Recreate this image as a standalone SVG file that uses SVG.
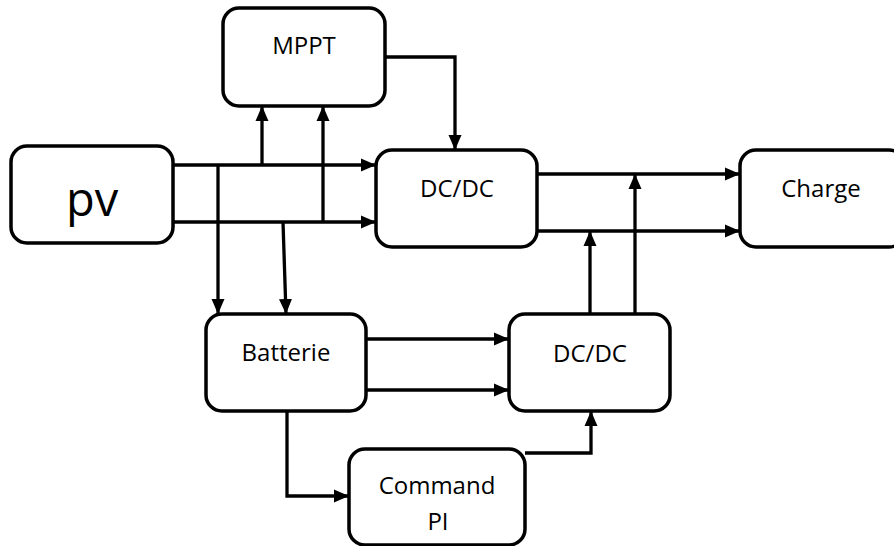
<svg xmlns="http://www.w3.org/2000/svg" width="894" height="546" viewBox="0 0 894 546">
<style>
.box{fill:#fff;stroke:#000;stroke-width:3.5}
.t{font-family:"Open Sans","Liberation Sans",sans-serif;font-size:24px;fill:#000;text-anchor:middle}
.c{fill:none;stroke:#000;stroke-width:3.3}
</style>
<defs>
<marker id="ah" markerUnits="userSpaceOnUse" markerWidth="15" markerHeight="15" viewBox="0 0 15 15" refX="15" refY="7.5" orient="auto">
<path d="M0,1 L15,7.5 L0,14 Z" fill="#000"/>
</marker>
</defs>
<rect width="894" height="546" fill="#fff"/>
<g id="connectors">
<path class="c" d="M173,165 H376" marker-end="url(#ah)"/>
<path class="c" d="M173,222 H376" marker-end="url(#ah)"/>
<path class="c" d="M218,165 V314" marker-end="url(#ah)"/>
<path class="c" d="M283,222 L286,314" marker-end="url(#ah)"/>
<path class="c" d="M262,165 V106" marker-end="url(#ah)"/>
<path class="c" d="M323,222 V106" marker-end="url(#ah)"/>
<path class="c" d="M385,57 H455 V150" marker-end="url(#ah)"/>
<path class="c" d="M537,174 H740" marker-end="url(#ah)"/>
<path class="c" d="M537,231 H740" marker-end="url(#ah)"/>
<path class="c" d="M590,314 V231" marker-end="url(#ah)"/>
<path class="c" d="M635,314 V174" marker-end="url(#ah)"/>
<path class="c" d="M366,339 H509" marker-end="url(#ah)"/>
<path class="c" d="M366,390 H509" marker-end="url(#ah)"/>
<path class="c" d="M287,411 V496 H349" marker-end="url(#ah)"/>
<path class="c" d="M525,453 H591 V411" marker-end="url(#ah)"/>
</g>
<g id="pv"><rect class="box" x="11" y="146" width="162" height="97" rx="16"/><text class="t" x="92" y="216" style="font-size:47px">pv</text></g>
<g id="mppt"><rect class="box" x="223" y="8" width="162" height="98" rx="16"/><text class="t" x="304" y="54">MPPT</text></g>
<g id="dcdc1"><rect class="box" x="376" y="150" width="161" height="97" rx="16"/><text class="t" x="457" y="197">DC/DC</text></g>
<g id="charge"><rect class="box" x="740" y="150" width="165" height="97" rx="16"/><text class="t" x="821" y="197">Charge</text></g>
<g id="batterie"><rect class="box" x="206" y="314" width="160" height="97" rx="16"/><text class="t" x="286" y="361">Batterie</text></g>
<g id="dcdc2"><rect class="box" x="509" y="314" width="161" height="97" rx="16"/><text class="t" x="590" y="362">DC/DC</text></g>
<g id="command"><rect class="box" x="349" y="449" width="176" height="96" rx="16"/><text class="t" x="437" y="494">Command</text><text class="t" x="438" y="530">PI</text></g>
</svg>
